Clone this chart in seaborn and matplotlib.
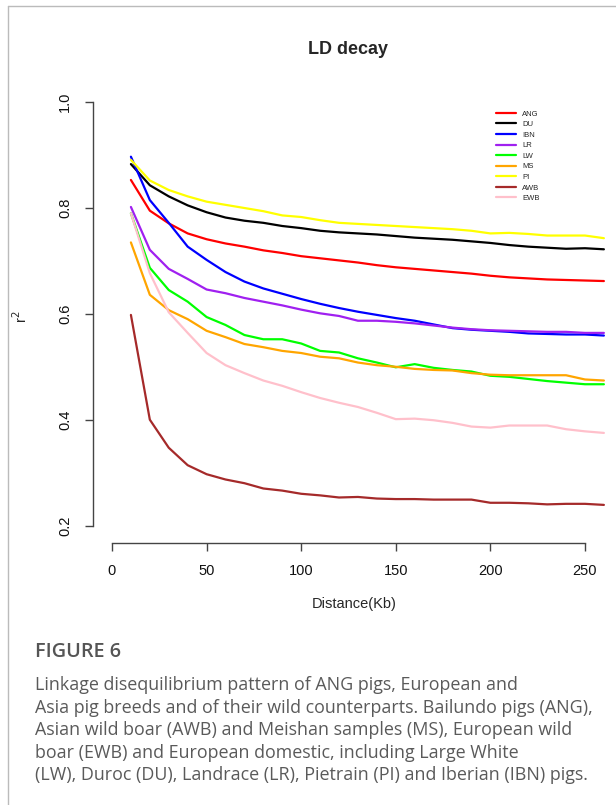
import numpy as np
import pandas as pd
import seaborn as sns
import matplotlib.pyplot as plt
from matplotlib.lines import Line2D

# distance (Kb) and r^2 values
distance = list(range(10, 270, 10))

ANG = [.853, .795, .771, .752, .741, .733, .727, .720, .715, .709, .705, .701, .697,
       .692, .688, .685, .682, .679, .676, .672, .669, .667, .665, .664, .663, .662]
DU = [.883, .843, .822, .805, .792, .782, .776, .772, .766, .762, .757, .754, .752,
      .750, .747, .744, .742, .740, .737, .734, .730, .727, .725, .723, .724, .722]
IBN = [.897, .815, .772, .727, .702, .679, .661, .648, .638, .628, .619, .611, .604,
       .598, .592, .587, .580, .573, .570, .568, .566, .563, .562, .561, .561, .559]
LR = [.802, .721, .685, .666, .646, .639, .630, .623, .616, .608, .601, .596, .587,
      .587, .585, .582, .578, .574, .571, .569, .568, .567, .566, .566, .564, .564]
LW = [.790, .687, .645, .623, .594, .579, .560, .552, .552, .544, .530, .527, .516,
      .508, .499, .505, .498, .494, .491, .483, .481, .477, .473, .470, .467, .467]
MS = [.735, .636, .607, .590, .568, .556, .543, .537, .530, .526, .519, .516, .508,
      .503, .500, .496, .494, .493, .488, .485, .484, .484, .484, .484, .476, .474]
PI = [.891, .852, .834, .822, .812, .806, .800, .794, .786, .783, .777, .772, .770,
      .768, .766, .764, .762, .760, .757, .752, .753, .751, .748, .748, .748, .743]
AWB = [.598, .400, .347, .314, .297, .287, .280, .270, .266, .260, .257, .253, .254,
       .251, .250, .250, .249, .249, .249, .243, .243, .242, .240, .241, .241, .239]
EWB = [.790, .677, .603, .564, .526, .503, .488, .474, .464, .452, .441, .432, .424,
       .413, .401, .402, .399, .394, .387, .385, .389, .389, .389, .382, .378, .375]

breeds = ["ANG", "DU", "IBN", "LR", "LW", "MS", "PI", "AWB", "EWB"]
values = [ANG, DU, IBN, LR, LW, MS, PI, AWB, EWB]
colors = ["#FF0000", "#000000", "#0000FF", "#A020F0", "#00FF00",
          "#FFA500", "#FFFF00", "#A52A2A", "#FFC0CB"]

df = pd.concat([pd.DataFrame({"Distance": distance, "r2": v, "Breed": b})
                for b, v in zip(breeds, values)], ignore_index=True)

sns.set_style("white")
plt.rcParams['font.family'] = ['Liberation Sans', 'DejaVu Sans']

fig = plt.figure(figsize=(6.16, 8.05), dpi=100)
ax = fig.add_axes([93 / 616, 262 / 805, 523 / 616, 453 / 805])

sns.lineplot(data=df, x="Distance", y="r2", hue="Breed", hue_order=breeds,
             palette=dict(zip(breeds, colors)), linewidth=1.6, legend=False, ax=ax)

ax.set_xlim(-10.04, 266.4)
ax.set_ylim(0.167, 1.023)
ax.set_xticks([0, 50, 100, 150, 200, 250])
ax.set_yticks([0.2, 0.4, 0.6, 0.8, 1.0])
ax.set_yticklabels(["0.2", "0.4", "0.6", "0.8", "1.0"])
for s in ["top", "right"]:
    ax.spines[s].set_visible(False)
ax.spines["left"].set_bounds(0.2, 1.0)
ax.spines["bottom"].set_bounds(0, 250)
for s in ["left", "bottom"]:
    ax.spines[s].set_color("#444444")
    ax.spines[s].set_linewidth(1.0)
ax.tick_params(axis="both", direction="out", length=6, width=1.0, color="#444444",
               labelsize=10.5, labelcolor="#111111", pad=9, left=True, bottom=True)
ax.tick_params(axis="y", labelrotation=90)
for t in ax.get_yticklabels():
    t.set_va("center")
ax.set_xlabel("Distance(Kb)", fontsize=10.5, labelpad=14)
ax.set_ylabel("r$^2$", fontsize=10.5, labelpad=16)
ax.yaxis.set_label_coords(-63 / 523, 0.5)
ax.grid(False)

fig.text(348 / 616, 1 - 50 / 805, "LD decay", ha="center", va="center",
         fontsize=13, fontweight="bold")

handles = [Line2D([], [], color=c, lw=1.6) for c in colors]
ax.legend(handles, breeds, loc="upper left", bbox_to_anchor=(0.765, 0.962),
          frameon=False, fontsize=5.5, handlelength=2.6, labelspacing=0.42,
          handletextpad=0.8, borderaxespad=0)

# panel frame
fig.add_artist(Line2D([8 / 616, 1], [1 - 6 / 805, 1 - 6 / 805], color="#bbbbbb", lw=1))
fig.add_artist(Line2D([8 / 616, 8 / 616], [0, 1 - 6 / 805], color="#bbbbbb", lw=1))

cap = ["Linkage disequilibrium pattern of ANG pigs, European and",
       "Asia pig breeds and of their wild counterparts. Bailundo pigs (ANG),",
       "Asian wild boar (AWB) and Meishan samples (MS), European wild",
       "boar (EWB) and European domestic, including Large White",
       "(LW), Duroc (DU), Landrace (LR), Pietrain (PI) and Iberian (IBN) pigs."]
fig.text(35 / 616, 1 - 652 / 805, "FIGURE 6", family="Open Sans", fontweight="semibold",
         fontsize=14.3, color="#555555", va="center")
for i, line in enumerate(cap):
    fig.text(35 / 616, 1 - (685 + 22.5 * i) / 805, line, family="Open Sans",
             fontsize=12.9, color="#5a5a5a", va="center")

fig.savefig("out.png", dpi=100)
